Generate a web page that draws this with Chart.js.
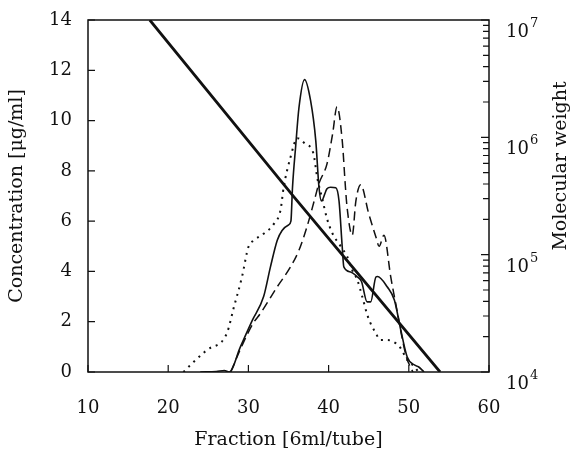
<!DOCTYPE html>
<html>
<head>
<meta charset="utf-8">
<script src="https://cdn.jsdelivr.net/npm/chart.js@4.4.1/dist/chart.umd.min.js"></script>
<style>
  html, body { margin: 0; padding: 0; background: #fff; }
  #wrap { width: 573px; height: 456px; }
</style>
</head>
<body>
<div id="wrap"><canvas id="graficoFracciones"></canvas></div>
<script>
// elution profiles: fraction number vs concentration (ug/ml)
const fracSolid = [24.0, 26.0, 27.0, 27.6, 29.0, 30.5, 31.9, 32.75, 33.6, 34.2, 35.0, 35.3, 35.5, 35.9, 36.3, 37.0, 37.75, 38.4, 38.8, 39.1, 39.8, 40.25, 40.9, 41.3, 41.7, 41.9, 42.75, 43.6, 44.1, 44.8, 45.25, 45.9, 46.1, 47.3, 48.2, 49.0, 49.8, 50.7, 51.2, 51.9];
const concSolid = [0, 0.02, 0.06, 0, 1.0, 2.06, 3.0, 4.18, 5.24, 5.63, 5.85, 6.0, 7.35, 9.0, 10.5, 11.63, 10.8, 9.2, 7.35, 6.8, 7.29, 7.35, 7.33, 6.8, 4.97, 4.18, 3.98, 3.78, 3.6, 2.79, 2.79, 3.78, 3.8, 3.39, 2.86, 1.67, 0.6, 0.28, 0.21, 0];

const fracDashed = [27.8, 29.2, 30.6, 31.5, 33.6, 35.25, 36.3, 37.3, 38.2, 38.8, 39.8, 40.5, 41.05, 41.7, 42.1, 42.3, 42.95, 43.4, 44.0, 45.0, 45.9, 46.3, 46.9, 47.75, 48.6, 49.2, 49.7, 50.5];
const concDashed = [0, 1.05, 1.94, 2.33, 3.39, 4.18, 4.84, 5.77, 6.8, 7.5, 8.28, 9.47, 10.55, 9.2, 7.35, 6.56, 5.44, 6.8, 7.45, 6.3, 5.37, 5.0, 5.44, 3.78, 2.33, 1.3, 0.6, 0];

const fracDotted = [21.9, 23.2, 24.8, 27.3, 28.2, 29.2, 30.0, 30.7, 31.9, 33.2, 34.0, 34.4, 35.25, 36.1, 37.1, 38.1, 38.6, 39.2, 39.8, 40.5, 41.5, 42.3, 42.95, 43.6, 44.2, 44.9, 45.9, 46.5, 47.3, 48.4, 49.0, 49.8, 50.7, 51.2];
const concDotted = [0, 0.41, 0.87, 1.53, 2.59, 3.78, 4.97, 5.24, 5.5, 5.9, 6.43, 7.35, 8.54, 9.3, 9.07, 8.7, 7.7, 6.9, 6.1, 5.5, 5.0, 4.6, 4.05, 3.65, 2.99, 2.2, 1.53, 1.27, 1.27, 1.14, 0.94, 0.48, 0.21, 0];

// calibration line, molecular weight on the log axis
const fracCalib = [17.7, 35.7, 53.9];
const mwCalib = [1e7, 3.1e5, 1e4];

const concTicks = [0, 2, 4, 6, 8, 10, 12, 14];
const fracTicks = [10, 20, 30, 40, 50, 60];
const mwTicks = [1e4, 1e5, 1e6, 1e7];

const serif = '"DejaVu Serif", "Liberation Serif", serif';
const ink = '#111';

function pares(xs, ys) {
    return xs.map((x, i) => ({ x: x, y: ys[i] }));
}

// frame, inward tick marks, log labels with exponents, right-hand title
const marcoPlugin = {
    id: 'marco',
    afterDatasetsDraw(chart) {
        const ctx = chart.ctx;
        const a = chart.chartArea;
        const sx = chart.scales.x, sy = chart.scales.y, sm = chart.scales.mw;
        ctx.save();
        ctx.strokeStyle = ink;
        ctx.lineWidth = 1.5;
        ctx.strokeRect(a.left, a.top, a.right - a.left, a.bottom - a.top);
        ctx.lineWidth = 1.2;
        ctx.beginPath();
        fracTicks.forEach(v => {
            const px = sx.getPixelForValue(v);
            ctx.moveTo(px, a.bottom);
            ctx.lineTo(px, a.bottom - 7);
        });
        concTicks.forEach(v => {
            const py = sy.getPixelForValue(v);
            ctx.moveTo(a.left, py);
            ctx.lineTo(a.left + 7, py);
        });
        for (let d = 1e4; d < 1e7; d *= 10) {
            for (let k = 1; k <= 10; k++) {
                const py = sm.getPixelForValue(d * k);
                const len = (k === 1 || k === 10) ? 8 : 6;
                ctx.moveTo(a.right, py);
                ctx.lineTo(a.right - len, py);
            }
        }
        ctx.stroke();

        ctx.fillStyle = ink;
        ctx.textBaseline = 'alphabetic';
        ctx.textAlign = 'left';
        mwTicks.forEach(v => {
            const py = sm.getPixelForValue(v) + 10;
            const x0 = a.right + 17;
            ctx.font = '18px ' + serif;
            ctx.fillText('10', x0, py + 7);
            const w = ctx.measureText('10').width;
            ctx.font = '13px ' + serif;
            ctx.fillText(String(Math.round(Math.log10(v))), x0 + w + 1, py - 3);
        });

        ctx.translate(561, 166);
        ctx.rotate(-Math.PI / 2);
        ctx.font = '19px ' + serif;
        ctx.textAlign = 'center';
        ctx.textBaseline = 'middle';
        ctx.fillText('Molecular weight', 0, 0);
        ctx.restore();
    }
};

function sinMargen(s) {
    s.paddingTop = 0;
    s.paddingBottom = 0;
}

document.addEventListener('DOMContentLoaded', function() {
    const ctx = document.getElementById('graficoFracciones').getContext('2d');
    new Chart(ctx, {
        type: 'line',
        data: {
            datasets: [
                {
                    label: 'solid',
                    data: pares(fracSolid, concSolid),
                    borderColor: ink,
                    borderWidth: 1.6,
                    pointRadius: 0,
                    cubicInterpolationMode: 'monotone',
                    fill: false,
                    yAxisID: 'y'
                },
                {
                    label: 'dashed',
                    data: pares(fracDashed, concDashed),
                    borderColor: ink,
                    borderWidth: 1.5,
                    borderDash: [9, 5],
                    pointRadius: 0,
                    cubicInterpolationMode: 'monotone',
                    fill: false,
                    yAxisID: 'y'
                },
                {
                    label: 'dotted',
                    data: pares(fracDotted, concDotted),
                    borderColor: ink,
                    borderWidth: 2,
                    borderDash: [2, 5],
                    pointRadius: 0,
                    cubicInterpolationMode: 'monotone',
                    fill: false,
                    yAxisID: 'y'
                },
                {
                    label: 'calibration',
                    data: pares(fracCalib, mwCalib),
                    borderColor: ink,
                    borderWidth: 2.8,
                    pointRadius: 0,
                    tension: 0,
                    fill: false,
                    yAxisID: 'mw'
                }
            ]
        },
        options: {
            responsive: true,
            maintainAspectRatio: false,
            animation: false,
            layout: { padding: { top: 20, left: 0, right: 0, bottom: 0 } },
            plugins: {
                legend: { display: false },
                tooltip: { enabled: false }
            },
            scales: {
                x: {
                    type: 'linear',
                    min: 10,
                    max: 60,
                    afterBuildTicks: s => { s.ticks = fracTicks.map(v => ({ value: v })); },
                    afterFit: s => { s.height = 84; s.paddingLeft = 0; s.paddingRight = 0; },
                    grid: { display: false, drawTicks: false },
                    border: { display: false },
                    ticks: { color: ink, padding: 26, font: { family: serif, size: 18 } },
                    title: {
                        display: true,
                        text: 'Fraction [6ml/tube]',
                        color: ink,
                        font: { family: serif, size: 19 },
                        padding: { top: 0, bottom: 5 }
                    }
                },
                y: {
                    min: 0,
                    max: 14,
                    afterBuildTicks: s => { s.ticks = concTicks.map(v => ({ value: v })); },
                    afterFit: s => { s.width = 88; sinMargen(s); },
                    grid: { display: false, drawTicks: false },
                    border: { display: false },
                    ticks: { color: ink, padding: 16, font: { family: serif, size: 18 } },
                    title: {
                        display: true,
                        text: 'Concentration [\u03bcg/ml]',
                        color: ink,
                        font: { family: serif, size: 19 },
                        padding: { top: 6, bottom: 0 }
                    }
                },
                mw: {
                    type: 'logarithmic',
                    position: 'right',
                    min: 1e4,
                    max: 1e7,
                    afterBuildTicks: s => { s.ticks = mwTicks.map(v => ({ value: v })); },
                    afterFit: s => { s.width = 84; sinMargen(s); },
                    grid: { display: false, drawTicks: false },
                    border: { display: false },
                    ticks: { display: false }
                }
            }
        },
        plugins: [marcoPlugin]
    });
});
</script>
</body>
</html>
